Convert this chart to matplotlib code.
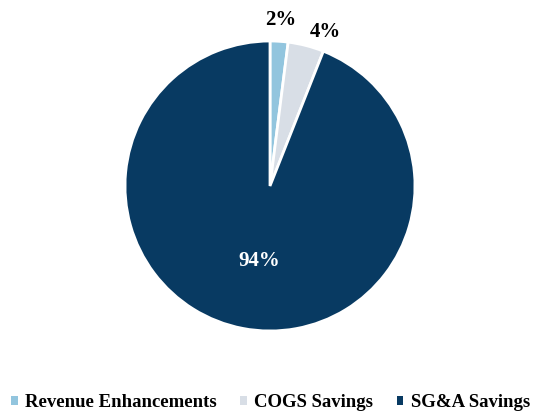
import numpy as np
import matplotlib
matplotlib.use("Agg")
from matplotlib import pyplot as plt

labels = ['Revenue Enhancements', 'COGS Savings', 'SG&A Savings']
values = [2, 4, 94]
colors = ['#92C5DE', '#D8DEE6', '#083A62']

plt.rcParams['font.family'] = ['Liberation Serif', 'DejaVu Serif']

fig = plt.figure(figsize=(5.41, 4.13), dpi=100)
ax = fig.add_axes([0, 0, 1, 1])

cx, cy, r = 270, 227, 145
wedges, _ = ax.pie(values, colors=colors, startangle=90, counterclock=False,
                   center=(cx, cy), radius=r, frame=True,
                   wedgeprops=dict(edgecolor='white', linewidth=2))
ax.set_xlim(0, 541)
ax.set_ylim(0, 413)
ax.set_aspect('equal')
ax.axis('off')

# percentage labels: small slices outside, big one inside
dist = [1.145, 1.1, 0.53]
halign = ['center', 'left', 'center']
txtcol = ['black', 'black', 'white']
for w, v, d, ha, c in zip(wedges, values, dist, halign, txtcol):
    ang = np.deg2rad((w.theta1 + w.theta2) / 2)
    ax.text(cx + d * r * np.cos(ang) + (4 if c == 'white' else 0),
            cy + d * r * np.sin(ang), f'{v}%',
            ha=ha, va='center', fontsize=15, fontweight='bold', color=c)

leg = ax.legend(wedges, labels, loc='lower center', bbox_to_anchor=(0.5, -0.036),
                ncol=3, frameon=False, handlelength=0.35, handleheight=0.35,
                handletextpad=0.4, columnspacing=1.25,
                prop=dict(family='Liberation Serif', weight='bold', size=13.5))
for h in leg.legend_handles:
    h.set_edgecolor('none')

fig.savefig('out.png', dpi=100)
